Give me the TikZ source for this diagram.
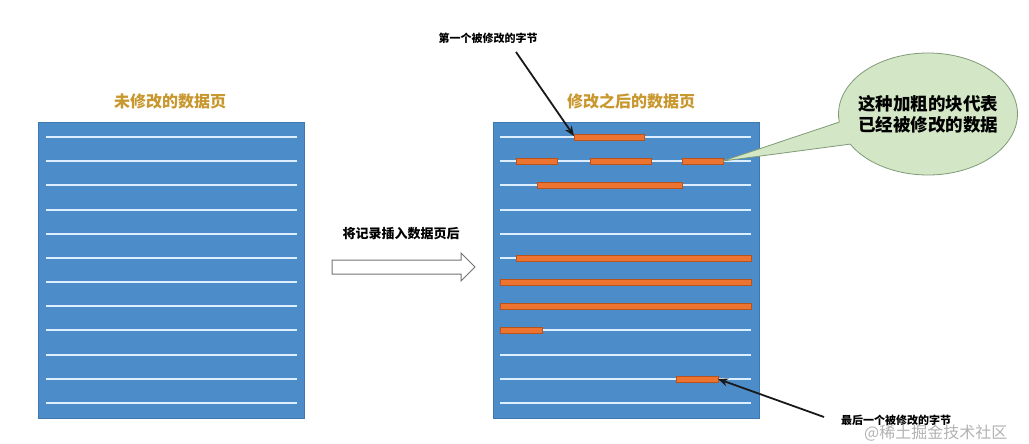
\documentclass[tikz,border=0pt]{standalone}
\usepackage{fontspec}
\newfontfamily\cjk{Noto Sans CJK SC}
\newcommand\cjkbold{\cjk\bfseries}
\usetikzlibrary{arrows.meta,shapes.callouts,shapes.geometric}
\definecolor{pageblue}{HTML}{4C8CC9}
\definecolor{pageedge}{HTML}{3E78B0}
\definecolor{lineclr}{HTML}{DCEEFF}
\definecolor{barclr}{HTML}{EC7330}
\definecolor{baredge}{HTML}{B8531C}
\definecolor{gold}{HTML}{C8972E}
\definecolor{bubble}{HTML}{D3E6C6}
\definecolor{bubbleedge}{HTML}{7F9A78}
\tikzset{
  page/.style={fill=pageblue,draw=pageedge,line width=0.8pt},
  rowline/.style={draw=lineclr,line width=2pt},
  bar/.style={fill=barclr,draw=baredge,line width=0.6pt},
  title/.style={font=\cjkbold\fontsize{16}{18}\selectfont,text=gold,inner sep=0pt},
  note/.style={font=\cjkbold\fontsize{11}{13}\selectfont,text=black,inner sep=0pt},
  pointer/.style={-{Stealth[length=10pt,width=8pt]},line width=1.8pt,draw=black!90},
}
\begin{document}
\begin{tikzpicture}[x=1pt,y=-1pt]
\useasboundingbox (0,0) rectangle (1029,444);
% left page
\node[page,rectangle,minimum width=266pt,minimum height=296pt,inner sep=0pt,anchor=north west] (leftpage) at (38,122) {};
\foreach \i in {0,...,11}{
  \draw[rowline] (46,{137+\i*24.18}) -- (297,{137+\i*24.18});
}
% right page
\node[page,rectangle,minimum width=266pt,minimum height=296pt,inner sep=0pt,anchor=north west] (rightpage) at (493,122) {};
\foreach \i in {0,...,11}{
  \draw[rowline] (500,{137+\i*24.18}) -- (751,{137+\i*24.18});
}
% orange bars
\def\bh{3}
\draw[bar] (574,{137-\bh}) rectangle (644,{137+\bh});
\coordinate (firstbyte) at (574,136);
\draw[bar] (516,{161.2-\bh}) rectangle (557,{161.2+\bh});
\draw[bar] (590,{161.2-\bh}) rectangle (651,{161.2+\bh});
\draw[bar] (682,{161.2-\bh}) rectangle (723,{161.2+\bh});
\coordinate (bubbletip) at (723,161);
\draw[bar] (537,{185.4-\bh}) rectangle (682,{185.4+\bh});
\draw[bar] (516,{257.9-\bh}) rectangle (751,{257.9+\bh});
\draw[bar] (500,{282.1-\bh}) rectangle (751,{282.1+\bh});
\draw[bar] (500,{306.3-\bh}) rectangle (751,{306.3+\bh});
\draw[bar] (500,{330.4-\bh}) rectangle (542,{330.4+\bh});
\draw[bar] (676,{378.8-\bh}) rectangle (718,{378.8+\bh});
\coordinate (lastbyte) at (718,379);
% titles
\node[title] (lefttitle) at (170,101) {未修改的数据页};
\node[title] (righttitle) at (631,101) {修改之后的数据页};
% insert arrow
\node[font=\cjkbold\fontsize{13}{15}\selectfont,inner sep=0pt] (inserttext) at (401,234) {将记录插入数据页后};
\draw[draw=black!55,fill=white,line width=1pt,line join=miter]
  (332,260) -- (461,260) -- (461,253) -- (475,267) -- (461,281) -- (461,274) -- (332,274) -- cycle;
% first byte note
\node[note] (firstnote) at (488,38) {第一个被修改的字节};
\coordinate (firststart) at (516,52);
\draw[pointer] (firststart) -- (firstbyte);
% last byte note
\node[note] (lastnote) at (896,420) {最后一个被修改的字节};
\coordinate (laststart) at (824,417);
\draw[pointer] (laststart) -- (lastbyte);
% callout
\node[ellipse callout,draw=bubbleedge,fill=bubble,line width=0.8pt,minimum width=179pt,minimum height=122pt,callout absolute pointer={(bubbletip)},callout pointer arc=22,font=\cjkbold\fontsize{17.5}{21}\selectfont,align=center,inner xsep=-16pt,inner ysep=0pt] (bubble) at (928,114) {这种加粗的块代表\\已经被修改的数据};
% watermark
\node[font=\cjk\fontsize{16}{18}\selectfont,text=black!30,inner sep=0pt,anchor=west] (watermark) at (864,433) {@稀土掘金技术社区};
\end{tikzpicture}
\end{document}
